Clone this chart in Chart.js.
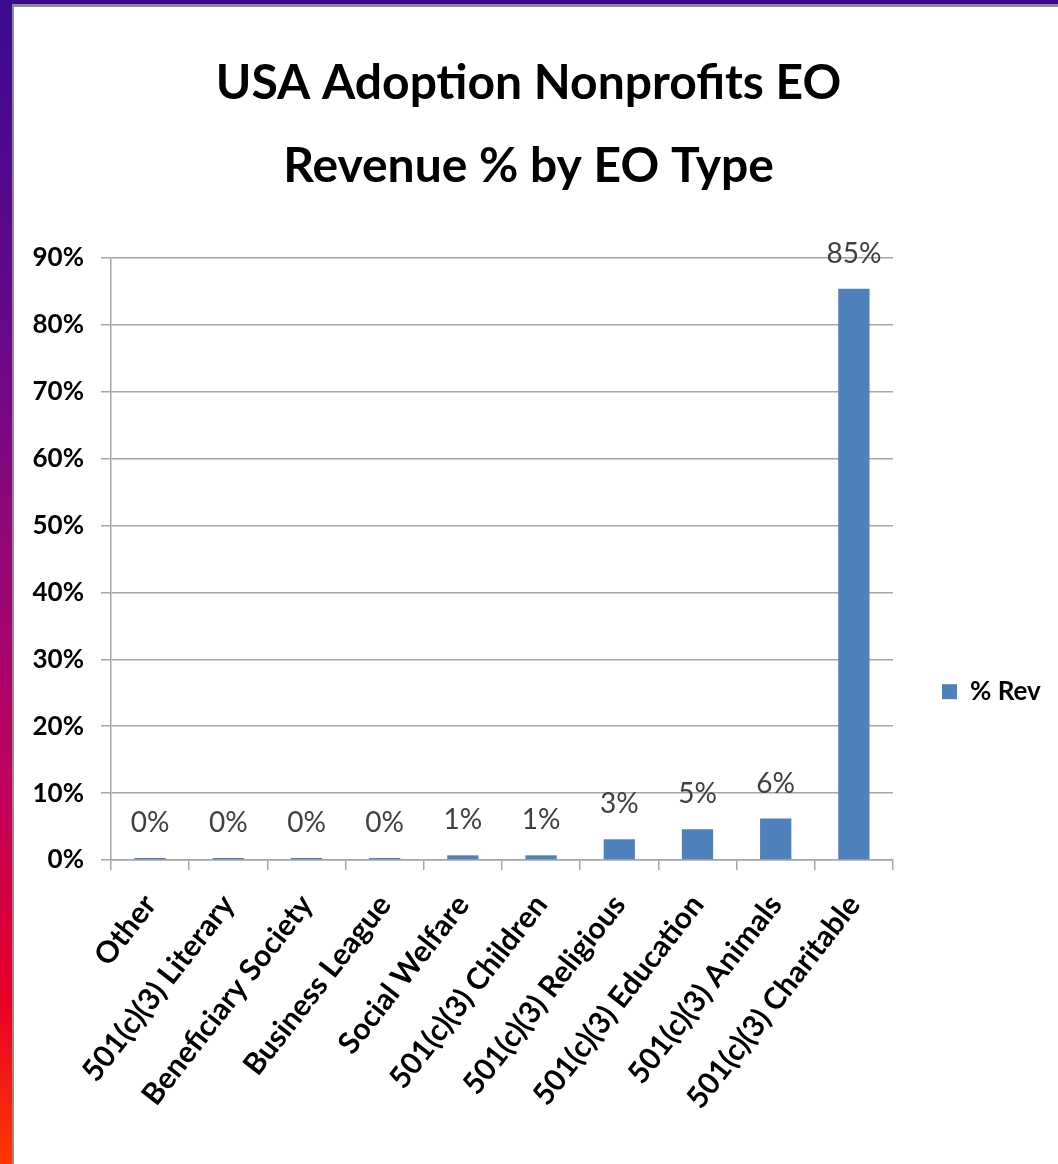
<!DOCTYPE html>
<html>
<head>
<meta charset="utf-8">
<script src="https://cdn.jsdelivr.net/npm/chart.js@4.4.1/dist/chart.umd.min.js"></script>
<style>
    html, body { margin: 0; padding: 0; background: #fff; }
    #wrap { position: relative; width: 1058px; height: 1164px; overflow: hidden; }
    #chart { position: absolute; left: 0; top: 0; }
    .edge { position: absolute; pointer-events: none; }
</style>
</head>
<body>
<div id="wrap">
    <canvas id="chart" width="1058" height="1164"></canvas>
    <div class="edge" style="left:0;top:0;width:1058px;height:7px;background:#8e8e8e"></div>
    <div class="edge" style="left:0;top:0;width:14px;height:1164px;background:#8e8e8e"></div>
    <div class="edge" style="left:0;top:0;width:1058px;height:4px;background:#3a0a8c"></div>
    <div class="edge" style="left:0;top:0;width:12px;height:1164px;background:linear-gradient(#3a0a8f 0%, #6a0888 30%, #8e0878 45%, #c0005c 68%, #e80028 86%, #ff3800 100%)"></div>
</div>
<script>
const categories = [
    'Other', '501(c)(3) Literary', 'Beneficiary Society', 'Business League',
    'Social Welfare', '501(c)(3) Children', '501(c)(3) Religious',
    '501(c)(3) Education', '501(c)(3) Animals', '501(c)(3) Charitable'
];
const revPct = [0.3, 0.3, 0.3, 0.3, 0.7, 0.7, 3.1, 4.6, 6.2, 85.4];
const titleLines = ['USA Adoption Nonprofits EO', 'Revenue % by EO Type'];
const seriesName = '% Rev';

const barBlue = '#4f81bd';
const gridGrey = '#a6a6a6';
const fontName = 'Lato, "Open Sans", sans-serif';

// data labels above each bar, rounded like the source
const barLabels = {
    id: 'barLabels',
    afterDatasetsDraw(chart) {
        const ctx = chart.ctx;
        const meta = chart.getDatasetMeta(0);
        ctx.save();
        ctx.font = '28px ' + fontName;
        ctx.fillStyle = '#404040';
        ctx.textAlign = 'center';
        ctx.textBaseline = 'middle';
        meta.data.forEach((bar, i) => {
            ctx.fillText(Math.round(revPct[i]) + '%', bar.x, bar.y - 35);
        });
        ctx.restore();
    }
};

new Chart(document.getElementById('chart'), {
    type: 'bar',
    data: {
        labels: categories,
        datasets: [{
            label: seriesName,
            data: revPct,
            backgroundColor: barBlue,
            borderWidth: 0,
            barPercentage: 0.4,
            categoryPercentage: 1
        }]
    },
    options: {
        responsive: false,
        animation: false,
        devicePixelRatio: 1,
        layout: { padding: { left: 14, top: 7, right: 15, bottom: 0 } },
        scales: {
            y: {
                min: 0,
                max: 90,
                ticks: {
                    stepSize: 10,
                    padding: 17,
                    color: '#000',
                    font: { family: fontName, size: 26, weight: 'bold' },
                    callback: v => v + '%'
                },
                grid: { color: gridGrey, lineWidth: 1.5, tickLength: 10 },
                border: { color: gridGrey, width: 1.5 },
                afterFit: s => { s.width = 97; }
            },
            x: {
                ticks: {
                    minRotation: 52,
                    maxRotation: 52,
                    padding: 18,
                    color: '#000',
                    font: { family: fontName, size: 30, weight: 'bold' }
                },
                grid: { drawOnChartArea: false, color: gridGrey, lineWidth: 1.5, tickLength: 10 },
                border: { color: gridGrey, width: 1.5 },
                afterFit: s => { s.height = 304; }
            }
        },
        plugins: {
            title: {
                display: true,
                text: titleLines,
                color: '#000',
                font: { family: fontName, size: 48, weight: 'bold', lineHeight: 1.73 },
                padding: { top: 35, bottom: 50 }
            },
            legend: {
                position: 'right',
                maxWidth: 150,
                title: { display: true, text: '', padding: { top: 198, bottom: 0 }, font: { size: 12 } },
                labels: {
                    boxWidth: 15,
                    boxHeight: 15,
                    padding: 49,
                    color: '#000',
                    font: { family: fontName, size: 26, weight: 'bold' }
                }
            },
            tooltip: { enabled: false }
        }
    },
    plugins: [barLabels]
});
</script>
</body>
</html>
